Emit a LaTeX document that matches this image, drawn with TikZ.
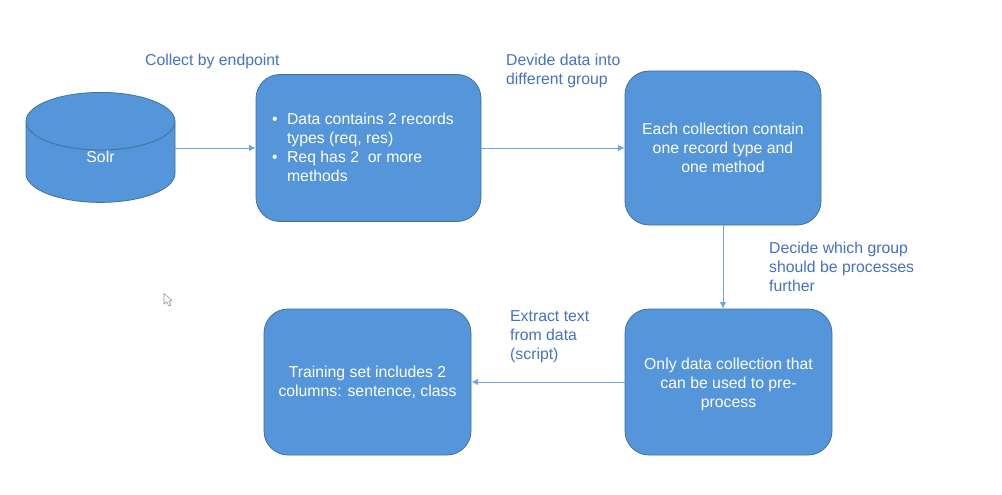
\documentclass[tikz,border=0pt]{standalone}
\usepackage{fontspec}
\setmainfont{Liberation Sans}
\usetikzlibrary{shapes.geometric,arrows.meta}
\definecolor{boxfill}{HTML}{5595D9}
\definecolor{boxline}{HTML}{41719C}
\definecolor{arrowc}{HTML}{6FA5DA}
\definecolor{labelc}{HTML}{4472C4}
\newcommand{\lowerby}[2]{\vbox{\vskip#1\hbox{#2}}}
\tikzset{
  x=1pt,y=-1pt,
  txt/.style={font=\fontsize{15.8}{19}\selectfont},
  flowbox/.style={txt,draw=boxline,fill=boxfill,text=white,rounded corners=24pt,line width=0.8pt,align=center,inner sep=0pt,anchor=center},
  dbnode/.style={txt,shape=cylinder,shape border rotate=90,aspect=2.05,draw=boxline,fill=boxfill,text=white,line width=0.8pt,inner sep=0pt},
  lbl/.style={txt,text=labelc,align=left,anchor=north west,inner sep=0pt},
  flow/.style={draw=arrowc,line width=0.9pt,-{Latex[length=6.5pt,width=6.5pt]}},
}
\begin{document}
\begin{tikzpicture}
\useasboundingbox (0,0) rectangle (1002,495);
\fill[white] (0,0) rectangle (1002,495);
\node[dbnode,minimum width=149pt,minimum height=110pt] (db) at (100.5,162) {\raisebox{11pt}{Solr}};
\node[flowbox,minimum width=225pt,minimum height=147pt] (b1) at (368.5,148) {%
  \setlength{\tabcolsep}{0pt}\lowerby{3pt}{\begin{tabular}{@{}l@{}l@{}}
  \makebox[15pt][l]{\textbullet} & Data contains 2 records\\
   & types (req, res)\\
  \makebox[15pt][l]{\textbullet} & Req has 2\ \ or more\\
   & methods
  \end{tabular}\hspace{11pt}}};
\node[flowbox,minimum width=196pt,minimum height=154pt] (b2) at (723,148) {Each collection contain\\one record type and\\one method};
\node[flowbox,minimum width=207pt,minimum height=146pt] (b3) at (728.5,382) {\lowerby{5pt}{\begin{tabular}{@{}c@{}}Only data collection that\\can be used to pre-\\process\end{tabular}}};
\node[flowbox,minimum width=207pt,minimum height=146pt] (b4) at (367.5,382) {\lowerby{2pt}{\begin{tabular}{@{}c@{}}Training set includes 2\\columns: sentence, class\end{tabular}}};
\node[lbl] (l1) at (145,53.5) {Collect by endpoint};
\node[lbl] (l2) at (506,53.5) {Devide data into\\different group};
\node[lbl] (l3) at (769,242) {Decide which group\\should be processes\\further};
\node[lbl] (l4) at (510,310.5) {Extract text\\from data\\(script)};
\draw[flow] (db.east |- b1.west) -- (b1.west);
\draw[flow] (b1.east) -- (b2.west);
\draw[flow] (b2.south) -- (b2.south |- b3.north);
\draw[flow] (b3.west) -- (b4.east);
\draw[draw=gray!85,fill=white,line width=0.6pt,line join=round] (164,293.5) -- (164,304) -- (166.8,301.8) -- (168.7,306) -- (170.8,305) -- (168.8,301) -- (172,300.5) -- cycle;
\end{tikzpicture}
\end{document}
